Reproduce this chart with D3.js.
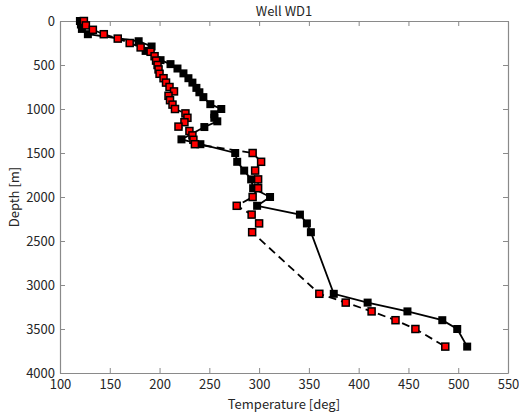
<!DOCTYPE html>
<html>
<head>
<meta charset="utf-8">
<script src="https://cdn.jsdelivr.net/npm/d3@7"></script>
<style>
  html, body { margin: 0; padding: 0; background: #fff; }
  svg { display: block; }
  text { font-family: "Noto Sans CJK JP", "Noto Sans", sans-serif; fill: #262626; }
</style>
</head>
<body>
<svg id="chart" width="519" height="412"></svg>
<script>
// Well WD1 temperature logs: [depth (m), temperature (deg)]
const measuredDepth = [0, 40, 90, 150, 230, 290, 340, 445, 490, 540, 595, 650, 700, 760, 810, 865, 945, 1000, 1060, 1100, 1140, 1205, 1345, 1400, 1500, 1600, 1700, 1800, 1900, 2000, 2100, 2200, 2300, 2400, 3100, 3200, 3300, 3400, 3500, 3700];
const measuredTemp  = [120, 121, 122, 128, 179, 192, 186, 201, 211, 218, 224, 229, 233, 237, 240, 244, 251, 262, 255, 255, 258, 245, 222, 241, 276, 278, 285, 292, 294, 311, 298, 341, 348, 352, 375, 409, 449, 484, 499, 509];

const modelDepth = [0, 50, 100, 150, 200, 250, 300, 350, 400, 450, 500, 550, 600, 650, 700, 750, 800, 850, 900, 950, 1000, 1050, 1100, 1150, 1200, 1250, 1300, 1350, 1400, 1500, 1600, 1700, 1800, 1900, 2000, 2100, 2200, 2300, 2400, 3100, 3200, 3300, 3400, 3500, 3700];
const modelTemp  = [124, 126, 133, 144, 158, 170, 181, 191, 195, 196.5, 198, 199, 200, 204, 206.5, 210, 214.5, 209, 210.5, 213, 215.5, 226, 228, 225, 219, 230, 233, 234, 235.5, 293.5, 302, 296, 299, 299, 293.5, 277.5, 292.5, 300, 293, 360.5, 387, 413, 437, 457, 487];

const tempTicks  = [100, 150, 200, 250, 300, 350, 400, 450, 500, 550];
const depthTicks = [0, 500, 1000, 1500, 2000, 2500, 3000, 3500, 4000];

const svg = d3.select("#chart");
const plot = { left: 60, top: 21, right: 508, bottom: 373 };
const axisColor = "#8a8a8a";
const fmt = d3.format("d");

const x = d3.scaleLinear().domain([100, 550]).range([plot.left, plot.right]);
const y = d3.scaleLinear().domain([0, 4000]).range([plot.top, plot.bottom]);

// Axes: ticks point inward, mirrored on the top and right edges
const tickLen = 5;
const styleAxis = g => {
  g.select(".domain").attr("stroke", axisColor).attr("stroke-width", 1.2);
  g.selectAll(".tick line").attr("stroke", axisColor);
  g.selectAll(".tick text").attr("fill", "#262626").style("font-size", "13px");
};

svg.append("g")
  .attr("transform", `translate(0,${plot.bottom})`)
  .call(d3.axisBottom(x).tickValues(tempTicks).tickFormat(fmt).tickSizeInner(-tickLen).tickSizeOuter(0).tickPadding(7))
  .call(styleAxis);

svg.append("g")
  .attr("transform", `translate(0,${plot.top})`)
  .call(d3.axisTop(x).tickValues(tempTicks).tickSizeInner(-tickLen).tickSizeOuter(0).tickFormat(""))
  .call(styleAxis);

svg.append("g")
  .attr("transform", `translate(${plot.left},0)`)
  .call(d3.axisLeft(y).tickValues(depthTicks).tickFormat(fmt).tickSizeInner(-tickLen).tickSizeOuter(0).tickPadding(5))
  .call(styleAxis);

svg.append("g")
  .attr("transform", `translate(${plot.right},0)`)
  .call(d3.axisRight(y).tickValues(depthTicks).tickSizeInner(-tickLen).tickSizeOuter(0).tickFormat(""))
  .call(styleAxis);

// Series
const measured = measuredDepth.map((d, i) => ({ depth: d, temp: measuredTemp[i] }));
const model = modelDepth.map((d, i) => ({ depth: d, temp: modelTemp[i] }));

const line = d3.line().x(d => x(d.temp)).y(d => y(d.depth));

const series = svg.append("g");

series.append("path")
  .datum(model)
  .attr("d", line)
  .attr("fill", "none")
  .attr("stroke", "#000")
  .attr("stroke-width", 1.8)
  .attr("stroke-dasharray", "8,5");

series.append("path")
  .datum(measured)
  .attr("d", line)
  .attr("fill", "none")
  .attr("stroke", "#000")
  .attr("stroke-width", 1.8);

const mSize = 8;
series.selectAll("rect.measured")
  .data(measured)
  .join("rect")
  .attr("class", "measured")
  .attr("x", d => x(d.temp) - mSize / 2)
  .attr("y", d => y(d.depth) - mSize / 2)
  .attr("width", mSize)
  .attr("height", mSize)
  .attr("fill", "#000");

const rSize = 7;
series.selectAll("rect.model")
  .data(model)
  .join("rect")
  .attr("class", "model")
  .attr("x", d => x(d.temp) - rSize / 2)
  .attr("y", d => y(d.depth) - rSize / 2)
  .attr("width", rSize)
  .attr("height", rSize)
  .attr("fill", "#ff0000")
  .attr("stroke", "#000")
  .attr("stroke-width", 1.5);

// Titles
svg.append("text")
  .attr("x", (plot.left + plot.right) / 2)
  .attr("y", 16)
  .attr("text-anchor", "middle")
  .style("font-size", "13px")
  .text("Well WD1");

svg.append("text")
  .attr("x", (plot.left + plot.right) / 2)
  .attr("y", 408.5)
  .attr("text-anchor", "middle")
  .style("font-size", "13px")
  .text("Temperature [deg]");

svg.append("text")
  .attr("transform", `translate(19,${(plot.top + plot.bottom) / 2}) rotate(-90)`)
  .attr("text-anchor", "middle")
  .style("font-size", "13px")
  .text("Depth [m]");
</script>
</body>
</html>
